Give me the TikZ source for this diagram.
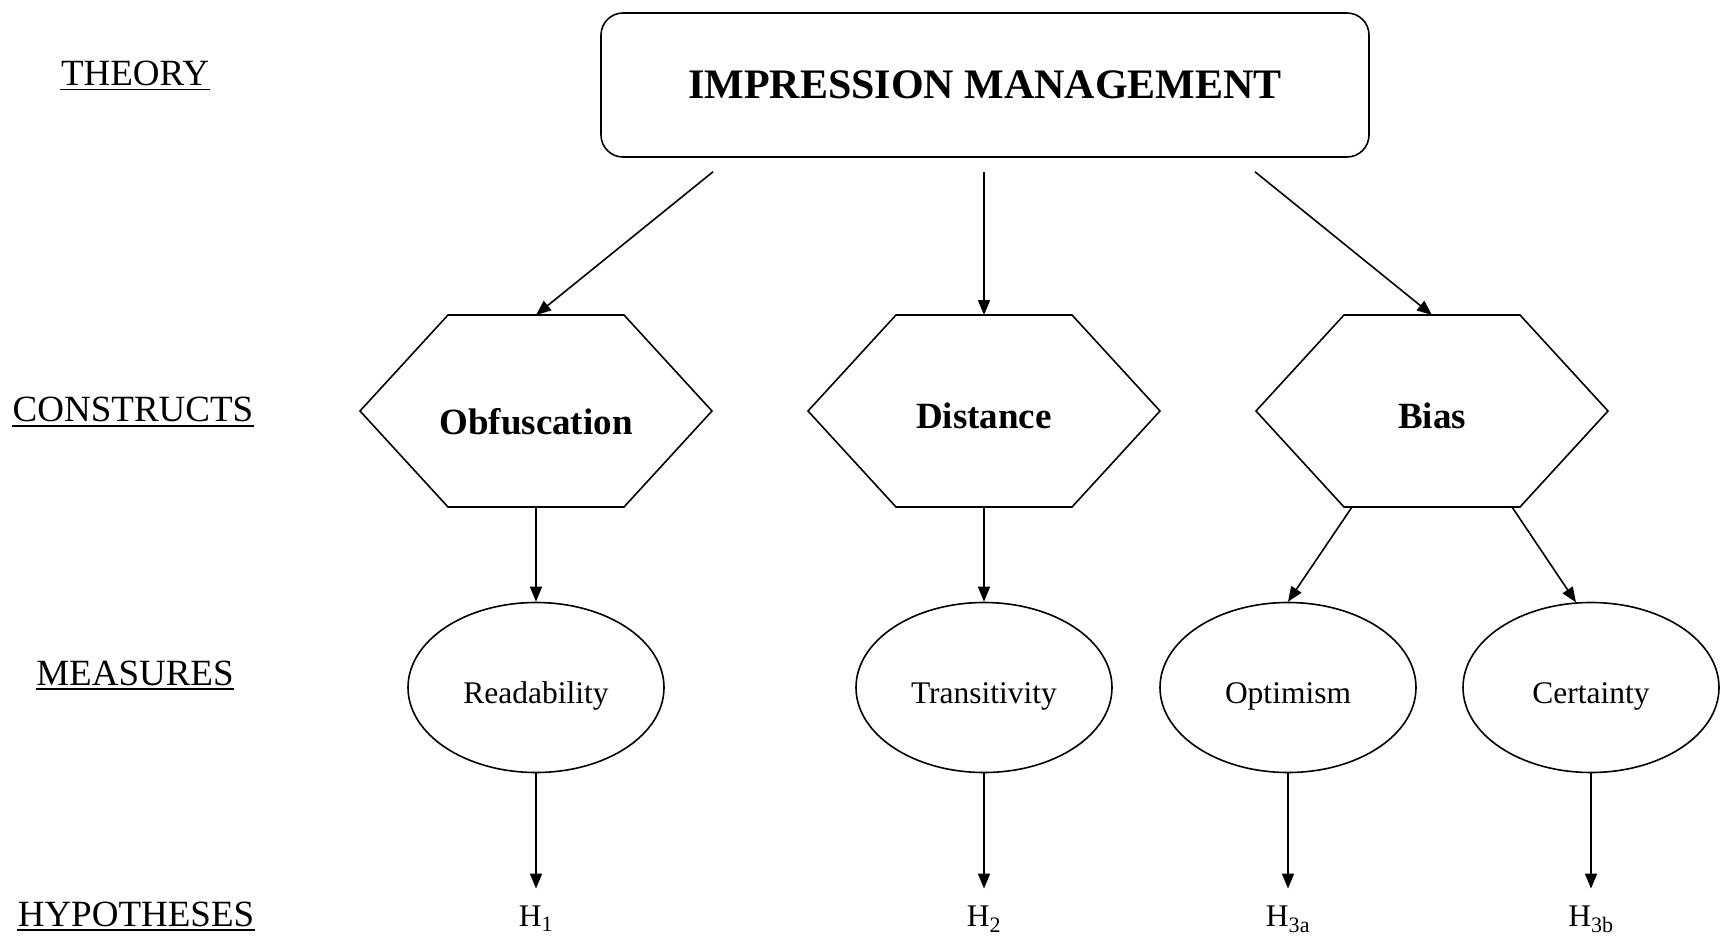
\documentclass[tikz,border=0pt]{standalone}
\usepackage{fontspec}
\setmainfont{Liberation Serif}
\usetikzlibrary{arrows.meta,shapes.geometric,calc}
\begin{document}
\begin{tikzpicture}[x=1pt,y=-1pt,
  line width=1.6pt,
  arr/.style={-{Triangle[length=15pt,width=12pt]}},
  lvl/.style={font=\fontsize{37}{40}\selectfont, inner sep=0pt, anchor=base},
  theory/.style={draw, rounded corners=22pt, minimum width=768pt, minimum height=144pt, inner sep=0pt, font=\fontsize{42}{46}\selectfont\bfseries},
  hexbox/.style={minimum width=352pt, minimum height=192pt, inner sep=0pt, outer sep=0pt},
  hexline/.style={draw},
  hextxt/.style={font=\fontsize{37}{40}\selectfont\bfseries, inner sep=0pt, anchor=base},
  meas/.style={draw, ellipse, minimum width=256pt, minimum height=170pt, inner sep=0pt, text height=31pt, text depth=0pt, font=\fontsize{31.5}{34}\selectfont},
  hyp/.style={font=\fontsize{31.5}{34}\selectfont, inner xsep=0pt, inner ysep=16pt, anchor=base},
]
\useasboundingbox (0,0) rectangle (1722,939);

% level labels
\node[lvl] (th) at (135,85.7) {THEORY};
\node[lvl] (co) at (133,421.7) {CONSTRUCTS};
\node[lvl] (me) at (135,685) {MEASURES};
\node[lvl] (hy) at (136,926) {HYPOTHESES};
\foreach \n in {th,co,me,hy}
  \draw ([yshift=-4pt]\n.base west) -- ([yshift=-4pt]\n.base east);

% theory box
\node[theory] (im) at (985,85) {IMPRESSION MANAGEMENT};

% constructs
\node[hexbox] (obf) at (536,411) {};
\node[hexbox] (dist) at (984,411) {};
\node[hexbox] (bias) at (1432,411) {};
\foreach \n in {obf,dist,bias}
  \draw[hexline] (\n.west) -- ($(\n.north)+(-88,0)$) -- ($(\n.north)+(88,0)$) -- (\n.east)
     -- ($(\n.south)+(88,0)$) -- ($(\n.south)+(-88,0)$) -- cycle;
\node[hextxt] (obft) at (536,434) {Obfuscation};
\node[hextxt] (distt) at (984,428) {Distance};
\node[hextxt] (biast) at (1432,428) {Bias};

% measures
\node[meas] (read) at (536,687.5) {Readability};
\node[meas] (trans) at (984,687.5) {Transitivity};
\node[meas] (opt) at (1288,687.5) {Optimism};
\node[meas] (cert) at (1591,687.5) {Certainty};

% hypotheses
\node[hyp] (h1) at (536,926) {H\textsubscript{1}};
\node[hyp] (h2) at (984,926) {H\textsubscript{2}};
\node[hyp] (h3a) at (1288,926) {H\textsubscript{3a}};
\node[hyp] (h3b) at (1591,926) {H\textsubscript{3b}};

% connectors
\coordinate (s1) at ($(im.south)+(-272,14)$);
\coordinate (s2) at ($(im.south)+(-1,14)$);
\coordinate (s3) at ($(im.south)+(270,14)$);
\draw[arr] (s1) -- (obf.north);
\draw[arr] (s2) -- (dist.north);
\draw[arr] (s3) -- (bias.north);

\draw[arr] (obf.south) -- (read.north);
\draw[arr] (dist.south) -- (trans.north);
\draw[arr] ($(bias.south)+(-80,0)$) -- (opt.north);
\draw[arr] ($(bias.south)+(80,0)$) -- (cert.100);

\draw[arr] (read.south) -- (h1.north);
\draw[arr] (trans.south) -- (h2.north);
\draw[arr] (opt.south) -- (h3a.north);
\draw[arr] (cert.south) -- (h3b.north);
\end{tikzpicture}
\end{document}
